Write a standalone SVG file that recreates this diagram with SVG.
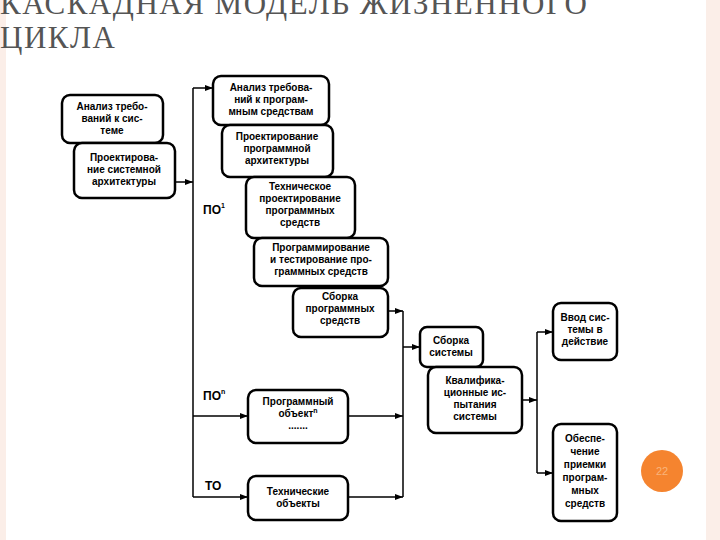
<svg xmlns="http://www.w3.org/2000/svg" width="720" height="540" viewBox="0 0 720 540">
<defs>
<marker id="ar" markerWidth="8" markerHeight="6" refX="8" refY="3" orient="auto" markerUnits="userSpaceOnUse"><path d="M0,0 L8,3 L0,6 z" fill="#000"/></marker>
<style>
.b{fill:#fff;stroke:#000;stroke-width:2.5}
.t{font-family:"Liberation Sans",Arial,sans-serif;font-size:10px;font-weight:bold;text-anchor:middle;fill:#000}
.l{stroke:#000;stroke-width:1.5;fill:none}
.a{stroke:#000;stroke-width:1.5;fill:none;marker-end:url(#ar)}
.lb{font-family:"Liberation Sans",Arial,sans-serif;font-size:12px;font-weight:bold;fill:#000}
</style>
</defs>
<rect width="720" height="540" fill="#fff"/>
<rect x="0" y="0" width="6" height="540" fill="#fbeee8"/>
<rect x="706" y="0" width="14" height="540" fill="#fbeee8"/>
<text x="0" y="14" font-family="Liberation Serif,serif" font-size="31" letter-spacing="1.5" fill="#555">КАСКАДНАЯ МОДЕЛЬ ЖИЗНЕННОГО</text>
<text x="0" y="48" font-family="Liberation Serif,serif" font-size="31" letter-spacing="1.5" fill="#555">ЦИКЛА</text>
<g id="connectors">
<path class="l" d="M193,88 V497"/>
<path class="a" d="M175,182 H193"/>
<path class="a" d="M193,88 H213"/>
<path class="a" d="M193,416 H248"/>
<path class="a" d="M193,497 H248"/>
<path class="a" d="M388,311 H403"/>
<path class="a" d="M348,416 H403"/>
<path class="a" d="M348,497 H403"/>
<path class="l" d="M403,311 V497"/>
<path class="a" d="M403,347 H420"/>
<path class="a" d="M522,400 H537"/>
<path class="l" d="M537,332 V473"/>
<path class="a" d="M537,332 H553"/>
<path class="a" d="M537,473 H553"/>
</g>
<g id="a1"><rect class="b" x="62" y="95" width="101" height="48" rx="8"/><text class="t" x="112" y="110">Анализ требо-<tspan x="112" dy="12">ваний к сис-</tspan><tspan x="112" dy="12">теме</tspan></text></g>
<g id="a2"><rect class="b" x="74" y="143" width="101" height="55" rx="8"/><text class="t" x="124" y="161">Проектирова-<tspan x="124" dy="12">ние системной</tspan><tspan x="124" dy="12">архитектуры</tspan></text></g>
<g id="b1"><rect class="b" x="213" y="76" width="116" height="49" rx="8"/><text class="t" x="271" y="91">Анализ требова-<tspan x="271" dy="12">ний к програм-</tspan><tspan x="271" dy="12">мным средствам</tspan></text></g>
<g id="b2"><rect class="b" x="222" y="125" width="111" height="52" rx="8"/><text class="t" x="277" y="140">Проектирование<tspan x="277" dy="12">программной</tspan><tspan x="277" dy="12">архитектуры</tspan></text></g>
<g id="b3"><rect class="b" x="246" y="177" width="109" height="61" rx="8"/><text class="t" x="300" y="190">Техническое<tspan x="300" dy="12">проектирование</tspan><tspan x="300" dy="12">программных</tspan><tspan x="300" dy="12">средств</tspan></text></g>
<g id="b4"><rect class="b" x="254" y="238" width="134" height="48" rx="8"/><text class="t" x="321" y="251">Программирование<tspan x="321" dy="12">и тестирование про-</tspan><tspan x="321" dy="12">граммных средств</tspan></text></g>
<g id="b5"><rect class="b" x="293" y="288" width="95" height="49" rx="8"/><text class="t" x="340" y="300">Сборка<tspan x="340" dy="12">программных</tspan><tspan x="340" dy="12">средств</tspan></text></g>
<g id="c1"><rect class="b" x="248" y="390" width="100" height="53" rx="8"/><text class="t" x="298" y="405">Программный<tspan x="298" dy="12">объект</tspan><tspan font-size="7" dy="-4">n</tspan><tspan x="298" dy="16">.......</tspan></text></g>
<g id="c2"><rect class="b" x="248" y="476" width="100" height="44" rx="8"/><text class="t" x="298" y="495">Технические<tspan x="298" dy="12">объекты</tspan></text></g>
<g id="d1"><rect class="b" x="420" y="327" width="63" height="40" rx="7"/><text class="t" x="451" y="344">Сборка<tspan x="451" dy="12">системы</tspan></text></g>
<g id="d2"><rect class="b" x="428" y="367" width="94" height="66" rx="8"/><text class="t" x="475" y="384">Квалифика-<tspan x="475" dy="12">ционные ис-</tspan><tspan x="475" dy="12">пытания</tspan><tspan x="475" dy="12">системы</tspan></text></g>
<g id="e1"><rect class="b" x="553" y="303" width="64" height="57" rx="8"/><text class="t" x="585" y="321">Ввод сис-<tspan x="585" dy="12">темы в</tspan><tspan x="585" dy="12">действие</tspan></text></g>
<g id="e2"><rect class="b" x="553" y="424" width="64" height="97" rx="8"/><text class="t" x="585" y="442">Обеспе-<tspan x="585" dy="13">чение</tspan><tspan x="585" dy="13">приемки</tspan><tspan x="585" dy="13">програм-</tspan><tspan x="585" dy="13">мных</tspan><tspan x="585" dy="13">средств</tspan></text></g>
<text class="lb" x="203" y="214">ПО<tspan font-size="7" dy="-6">1</tspan></text>
<text class="lb" x="203" y="400">ПО<tspan font-size="7" dy="-6">n</tspan></text>
<text class="lb" x="205" y="490">ТО</text>
<circle cx="662" cy="471" r="21" fill="#f5842f"/>
<text x="662" y="475" font-family="Liberation Sans,sans-serif" font-size="11" fill="#f9b47c" text-anchor="middle">22</text>
</svg>
